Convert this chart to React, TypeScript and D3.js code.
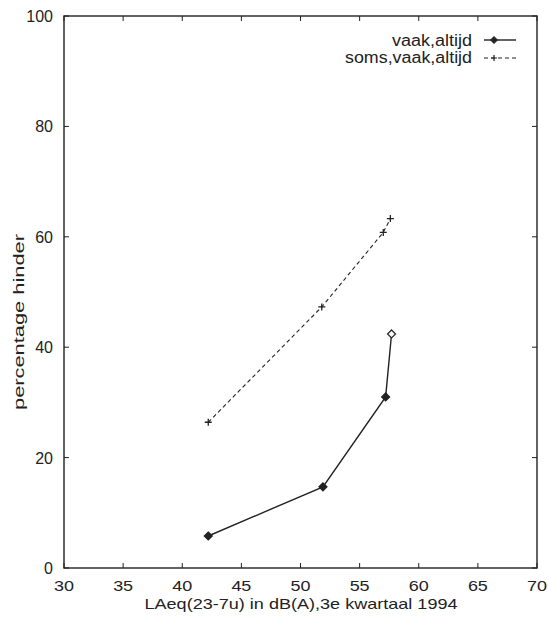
import React from 'react';
import * as d3 from 'd3';

// Reference data
const levels = [42.2, 51.9, 57.2, 57.7];
const vaakAltijd = [5.8, 14.7, 31.0, 42.4];
const somsLevels = [42.2, 51.8, 57.0, 57.6];
const somsVaakAltijd = [26.4, 47.3, 60.8, 63.3];
const xTicks = [30, 35, 40, 45, 50, 55, 60, 65, 70];
const yTicks = [0, 20, 40, 60, 80, 100];

const W = 548;
const H = 617;
const margin = { top: 16, right: 11, bottom: 49, left: 64 };
const ink = '#222';
const font = '"Liberation Sans", Arial, Helvetica, sans-serif';

const App = () => {
    const x = d3.scaleLinear().domain([30, 70]).range([margin.left, W - margin.right]);
    const y = d3.scaleLinear().domain([0, 100]).range([H - margin.bottom, margin.top]);

    const line = d3.line<[number, number]>()
        .x(d => x(d[0]))
        .y(d => y(d[1]));

    const solid: [number, number][] = levels.map((l, i) => [l, vaakAltijd[i]]);
    const dashed: [number, number][] = somsLevels.map((l, i) => [l, somsVaakAltijd[i]]);

    const x0 = x(30), x1 = x(70), y0 = y(0), y1 = y(100);
    const tick = 5;

    const diamond = (cx: number, cy: number, r: number) =>
        `M${cx},${cy - r}L${cx + r},${cy}L${cx},${cy + r}L${cx - r},${cy}Z`;
    const plus = (cx: number, cy: number, r: number) =>
        `M${cx - r},${cy}H${cx + r}M${cx},${cy - r}V${cy + r}`;

    return (
        <div style={{ position: 'absolute', left: 0, top: 0 }}>
            <svg width={W} height={H} style={{ display: 'block', background: '#fff' }}>
                {/* frame */}
                <rect x={x0} y={y1} width={x1 - x0} height={y0 - y1} fill="none" stroke={ink} strokeWidth={1.4} />

                {/* x ticks, bottom and top */}
                {xTicks.map(t => (
                    <g key={'x' + t}>
                        <line x1={x(t)} x2={x(t)} y1={y0} y2={y0 - tick} stroke={ink} />
                        <line x1={x(t)} x2={x(t)} y1={y1} y2={y1 + tick} stroke={ink} />
                        <text x={x(t)} y={y0 + 23} textAnchor="middle" fontFamily={font} fontSize={15} fill={ink}
                            textLength={t >= 10 ? 20 : undefined} lengthAdjust="spacingAndGlyphs">{t}</text>
                    </g>
                ))}

                {/* y ticks, left and right */}
                {yTicks.map(t => (
                    <g key={'y' + t}>
                        <line x1={x0} x2={x0 + tick} y1={y(t)} y2={y(t)} stroke={ink} />
                        <line x1={x1} x2={x1 - tick} y1={y(t)} y2={y(t)} stroke={ink} />
                        <text x={x0 - 11} y={y(t) + 6} textAnchor="end" fontFamily={font} fontSize={16} fill={ink}>{t}</text>
                    </g>
                ))}

                {/* axis labels */}
                <text x={301} y={609} textAnchor="middle" fontFamily={font} fontSize={15} fill={ink}
                    textLength={313} lengthAdjust="spacingAndGlyphs">
                    LAeq(23-7u) in dB(A),3e kwartaal 1994
                </text>
                <text transform={`translate(24,322) rotate(-90)`} textAnchor="middle" fontFamily={font} fontSize={15} fill={ink}
                    textLength={176} lengthAdjust="spacingAndGlyphs">
                    percentage hinder
                </text>

                {/* series: soms,vaak,altijd */}
                <path d={line(dashed) || ''} fill="none" stroke={ink} strokeWidth={1.1} strokeDasharray="4,3" />
                {dashed.map((d, i) => (
                    <path key={'p' + i} d={plus(x(d[0]), y(d[1]), 3.5)} stroke={ink} strokeWidth={1.3} fill="none" />
                ))}

                {/* series: vaak,altijd */}
                <path d={line(solid) || ''} fill="none" stroke={ink} strokeWidth={1.4} />
                {solid.map((d, i) => (
                    <path key={'d' + i} d={diamond(x(d[0]), y(d[1]), 4)}
                        fill={i === solid.length - 1 ? '#fff' : ink} stroke={ink} strokeWidth={1.2} />
                ))}

                {/* legend */}
                <text x={472} y={46} textAnchor="end" fontFamily={font} fontSize={16} fill={ink}
                    textLength={80} lengthAdjust="spacingAndGlyphs">vaak,altijd</text>
                <line x1={484} x2={516} y1={40} y2={40} stroke={ink} strokeWidth={1.4} />
                <path d={diamond(494, 40, 3.5)} fill={ink} stroke={ink} />
                <text x={472} y={63} textAnchor="end" fontFamily={font} fontSize={16} fill={ink}
                    textLength={127} lengthAdjust="spacingAndGlyphs">soms,vaak,altijd</text>
                <line x1={484} x2={518} y1={58} y2={58} stroke={ink} strokeWidth={1.1} strokeDasharray="4,3" />
                <path d={plus(494, 58, 3)} stroke={ink} strokeWidth={1.2} fill="none" />
            </svg>
        </div>
    );
};

export default App;
